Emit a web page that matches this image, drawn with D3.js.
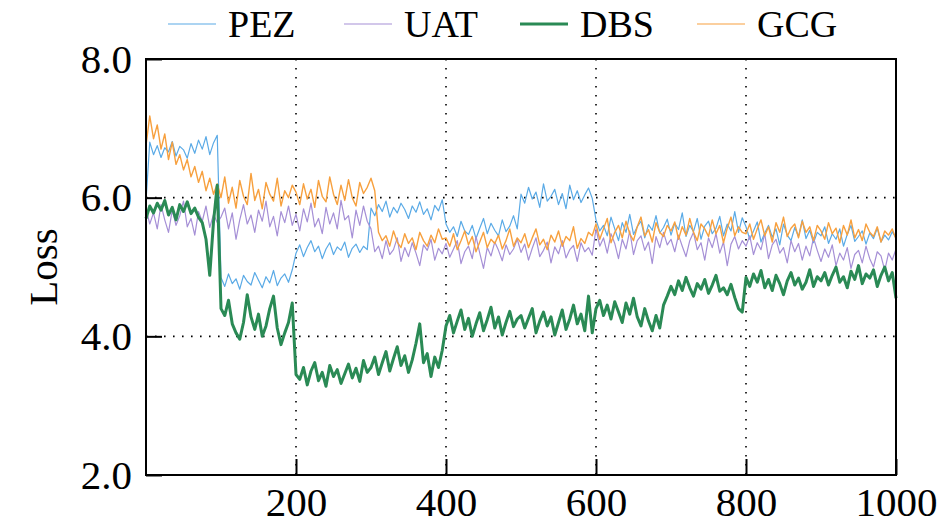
<!DOCTYPE html>
<html>
<head>
<meta charset="utf-8">
<script src="https://cdn.jsdelivr.net/npm/d3@7"></script>
<style>
  body { margin: 0; background: #fff; }
  svg { display: block; font-family: "Liberation Serif", "Times New Roman", Tinos, "Nimbus Roman", FreeSerif, "DejaVu Serif", "Noto Serif", serif; }
</style>
</head>
<body>
<svg id="chart" width="946" height="525"></svg>
<script>
// training steps (every 5 steps) and loss curves
const steps = d3.range(0, 1001, 5);

const pez = [
  5.95, 6.80, 6.62, 6.75, 6.58, 6.72, 6.66, 6.81, 6.60, 6.74, 6.69, 6.57, 6.78, 6.64, 6.83, 6.70, 6.88, 6.62, 6.79, 6.90,
  4.85, 4.72, 4.90, 4.76, 4.83, 4.68, 4.88, 4.79, 4.74, 4.92, 4.81, 4.70, 4.86, 4.77, 4.95, 4.73, 4.84, 4.90, 4.78, 4.96,
  5.20, 5.32, 5.15, 5.28, 5.38, 5.22, 5.30, 5.12, 5.26, 5.35, 5.18, 5.29, 5.24, 5.36, 5.14, 5.27, 5.33, 5.21, 5.30, 5.25,
  5.85, 5.74, 5.90, 5.80, 5.95, 5.72, 5.86, 5.78, 5.92, 5.83, 5.70, 5.88, 5.79, 5.94, 5.76, 5.84, 5.68, 5.89, 5.81, 5.97,
  5.62, 5.50, 5.58, 5.44, 5.66, 5.52, 5.47, 5.60, 5.41, 5.56, 5.70, 5.48, 5.63, 5.53, 5.45, 5.68, 5.51, 5.59, 5.74, 5.55,
  6.05, 5.92, 6.15, 5.98, 6.08, 5.86, 6.20, 5.95, 6.02, 6.12, 5.90, 6.06, 5.84, 6.18, 5.97, 6.10, 5.93, 6.04, 6.14, 5.99,
  5.68, 5.52, 5.60, 5.45, 5.72, 5.55, 5.38, 5.64, 5.50, 5.76, 5.47, 5.58, 5.66, 5.42, 5.61, 5.53, 5.74, 5.49, 5.57, 5.69,
  5.46, 5.63, 5.54, 5.78, 5.44, 5.60, 5.51, 5.70, 5.40, 5.59, 5.66, 5.48, 5.56, 5.73, 5.45, 5.62, 5.52, 5.80, 5.50, 5.71,
  5.58, 5.40, 5.52, 5.65, 5.36, 5.49, 5.60, 5.43, 5.55, 5.32, 5.62, 5.46, 5.38, 5.57, 5.44, 5.68, 5.41, 5.53, 5.35, 5.50,
  5.45, 5.58, 5.34, 5.48, 5.40, 5.55, 5.30, 5.47, 5.60, 5.37, 5.44, 5.52, 5.33, 5.49, 5.41, 5.56, 5.36, 5.46, 5.39, 5.51, 5.42
];

const uat = [
  5.85, 5.62, 5.78, 5.55, 5.90, 5.68, 5.50, 5.82, 5.60, 5.74, 5.95, 5.58, 5.70, 5.46, 5.80, 5.66, 5.88, 5.57, 5.76, 5.64,
  5.72, 5.85, 5.55, 5.78, 5.40, 5.68, 5.90, 5.62, 5.75, 5.50, 5.82, 5.66, 5.95, 5.58, 5.73, 5.45, 5.80, 5.64, 5.88, 5.60,
  5.76, 5.52, 5.84, 5.65, 5.92, 5.58, 5.70, 5.48, 5.86, 5.62, 5.78, 5.55, 5.96, 5.68, 5.74, 5.42, 5.82, 5.60, 5.88, 5.66,
  5.55, 5.22, 5.30, 5.12, 5.38, 5.18, 5.25, 5.42, 5.08, 5.28, 5.15, 5.35, 5.20, 5.02, 5.32, 5.24, 5.40, 5.10, 5.27, 5.19,
  5.34, 5.14, 5.26, 5.38, 5.05, 5.22, 5.30, 5.12, 5.44, 5.20, 4.98, 5.28, 5.16, 5.36, 5.24, 5.09, 5.32, 5.18, 5.26, 5.40,
  5.21, 5.33, 5.10, 5.27, 5.42, 5.15, 5.24, 5.36, 5.06, 5.29, 5.19, 5.38, 5.13, 5.25, 5.31, 5.08, 5.35, 5.22, 5.28, 5.17,
  5.55, 5.30, 5.42, 5.20, 5.48, 5.34, 5.12, 5.40, 5.26, 5.52, 5.18, 5.38, 5.45, 5.24, 5.36, 5.05, 5.44, 5.28, 5.50, 5.32,
  5.40, 5.22, 5.46, 5.30, 5.15, 5.38, 5.50, 5.25, 5.35, 5.10, 5.42, 5.28, 5.48, 5.20, 5.36, 5.02, 5.33, 5.44, 5.26, 5.38,
  5.30, 5.45, 5.18, 5.35, 5.25, 5.48, 5.12, 5.32, 5.40, 5.20, 5.28, 5.06, 5.38, 5.22, 5.34, 5.10, 5.30, 5.16, 5.42, 5.24,
  5.08, 5.26, 5.14, 5.32, 5.02, 5.20, 5.10, 5.28, 4.98, 5.18, 5.24, 5.06, 5.30, 5.12, 5.00, 5.22, 5.16, 4.95, 5.20, 5.10, 5.26
];

const dbs = [
  5.70, 5.88, 5.78, 5.92, 5.82, 5.96, 5.75, 5.86, 5.68, 5.90, 5.80, 5.94, 5.77, 5.85, 5.72, 5.64, 5.40, 4.88, 5.65, 6.18,
  4.40, 4.30, 4.52, 4.18, 4.05, 3.96, 4.20, 4.60, 4.28, 4.10, 4.32, 4.00, 4.15, 4.40, 4.58, 4.12, 3.88, 4.05, 4.20, 4.48,
  3.45, 3.38, 3.55, 3.30, 3.50, 3.62, 3.36, 3.48, 3.28, 3.58, 3.42, 3.52, 3.32, 3.46, 3.60, 3.40, 3.54, 3.35, 3.65, 3.48,
  3.55, 3.70, 3.45, 3.62, 3.78, 3.50, 3.68, 3.85, 3.58, 3.72, 3.48, 3.66, 3.90, 4.18, 3.62, 3.75, 3.42, 3.70, 3.55, 3.80,
  4.15, 4.30, 4.05, 4.22, 4.38, 4.10, 4.26, 4.00, 4.18, 4.34, 4.08, 4.24, 4.42, 4.12, 4.28, 4.02, 4.20, 4.36, 4.14, 4.25,
  4.30, 4.12, 4.26, 4.40, 4.05, 4.22, 4.35, 4.15, 4.28, 4.02, 4.20, 4.38, 4.10, 4.25, 4.45, 4.18, 4.32, 4.08, 4.58, 4.05,
  4.40, 4.52, 4.30, 4.45, 4.25, 4.50, 4.35, 4.20, 4.48, 4.32, 4.55, 4.28, 4.15, 4.40, 4.22, 4.08, 4.30, 4.12, 4.45, 4.58,
  4.72, 4.60, 4.80, 4.66, 4.85, 4.70, 4.58, 4.76, 4.68, 4.82, 4.62, 4.74, 4.88, 4.65, 4.70, 4.60, 4.75, 4.56, 4.40, 4.35,
  4.85, 4.72, 4.90, 4.78, 4.95, 4.70, 4.82, 4.66, 4.88, 4.76, 4.60, 4.80, 4.92, 4.74, 4.84, 4.68, 4.78, 4.96, 4.72, 4.86,
  4.80, 4.92, 4.74, 4.88, 5.00, 4.78, 4.86, 4.70, 4.94, 4.82, 5.02, 4.76, 4.90, 4.84, 4.96, 4.72, 4.88, 5.00, 4.80, 4.92, 4.55
];

const gcg = [
  6.75, 7.18, 6.85, 7.05, 6.70, 6.92, 6.55, 6.80, 6.48, 6.62, 6.40, 6.55, 6.30, 6.45, 6.22, 6.38, 6.10, 6.28, 6.05, 6.20,
  6.00, 6.30, 5.92, 6.15, 5.85, 6.25, 6.02, 5.90, 6.35, 5.96, 6.12, 5.84, 6.22, 6.05, 5.95, 6.28, 5.88, 6.10, 6.00, 6.18,
  6.08, 5.90, 6.20, 5.98, 6.12, 5.86, 6.25, 6.02, 5.94, 6.30, 6.05, 5.90, 6.18, 5.96, 6.26, 6.00, 5.88, 6.22, 6.06, 6.15,
  6.28, 6.10, 5.50, 5.38, 5.45, 5.30, 5.52, 5.36, 5.28, 5.48, 5.34, 5.42, 5.25, 5.50, 5.38, 5.30, 5.46, 5.35, 5.55, 5.40,
  5.42, 5.30, 5.48, 5.25, 5.38, 5.52, 5.32, 5.44, 5.22, 5.36, 5.50, 5.28, 5.40, 5.34, 5.46, 5.26, 5.38, 5.55, 5.30, 5.42,
  5.35, 5.48, 5.28, 5.42, 5.55, 5.32, 5.40, 5.25, 5.46, 5.36, 5.52, 5.30, 5.44, 5.38, 5.58, 5.27, 5.41, 5.34, 5.50, 5.45,
  5.62, 5.40, 5.55, 5.70, 5.35, 5.50, 5.60, 5.42, 5.66, 5.48, 5.38, 5.58, 5.72, 5.45, 5.54, 5.36, 5.64, 5.50, 5.44, 5.60,
  5.52, 5.65, 5.40, 5.58, 5.46, 5.70, 5.50, 5.38, 5.62, 5.55, 5.44, 5.68, 5.48, 5.60, 5.35, 5.56, 5.72, 5.45, 5.58, 5.50,
  5.48, 5.62, 5.40, 5.55, 5.68, 5.45, 5.58, 5.36, 5.64, 5.50, 5.72, 5.44, 5.56, 5.62, 5.42, 5.66, 5.50, 5.58, 5.38, 5.60,
  5.52, 5.40, 5.64, 5.48, 5.56, 5.35, 5.60, 5.46, 5.68, 5.42, 5.54, 5.38, 5.62, 5.50, 5.44, 5.58, 5.36, 5.52, 5.46, 5.55, 5.40
];

const xTicks = [200, 400, 600, 800, 1000];
const yTicks = [2, 4, 6, 8];
const gridX = [200, 400, 600, 800];
const gridY = [4, 6];

// drawing order: thin lines first, DBS on top
const series = [
  { name: "PEZ", values: pez, color: "#5aaae6", width: 1.2 },
  { name: "UAT", values: uat, color: "#a58fd6", width: 1.2 },
  { name: "GCG", values: gcg, color: "#f7a03e", width: 1.4 },
  { name: "DBS", values: dbs, color: "#2a8a55", width: 3 }
];
const legendOrder = ["PEZ", "UAT", "DBS", "GCG"];

const svg = d3.select("#chart");
const margin = { left: 146, right: 50, top: 59, bottom: 50 };
const width = +svg.attr("width");
const height = +svg.attr("height");
const serif = "'Liberation Serif', 'Times New Roman', Tinos, 'Nimbus Roman', FreeSerif, 'DejaVu Serif', 'Noto Serif', serif";

const x = d3.scaleLinear().domain([0, 1000]).range([margin.left, width - margin.right]);
const y = d3.scaleLinear().domain([2, 8]).range([height - margin.bottom, margin.top]);

// dotted grid
svg.append("g")
  .selectAll("line")
  .data(gridX)
  .join("line")
  .attr("x1", (d) => x(d)).attr("x2", (d) => x(d))
  .attr("y1", y(8)).attr("y2", y(2))
  .attr("stroke", "#000")
  .attr("stroke-width", 1.6)
  .attr("stroke-dasharray", "1.6,7.4");

svg.append("g")
  .selectAll("line")
  .data(gridY)
  .join("line")
  .attr("x1", x(0)).attr("x2", x(1000))
  .attr("y1", (d) => y(d)).attr("y2", (d) => y(d))
  .attr("stroke", "#000")
  .attr("stroke-width", 1.6)
  .attr("stroke-dasharray", "1.6,7.4");

// lines
const line = d3.line()
  .x((d, i) => x(steps[i]))
  .y((d) => y(d));

svg.append("g")
  .selectAll("path")
  .data(series)
  .join("path")
  .attr("d", (s) => line(s.values))
  .attr("fill", "none")
  .attr("stroke", (s) => s.color)
  .attr("stroke-width", (s) => s.width)
  .attr("stroke-linejoin", "round");

// axes with inward ticks
const xAxis = svg.append("g")
  .attr("transform", `translate(0,${y(2)})`)
  .call(d3.axisBottom(x).tickValues(xTicks).tickFormat(d3.format("d")).tickSizeInner(-16).tickSizeOuter(0).tickPadding(12));

const yAxis = svg.append("g")
  .attr("transform", `translate(${x(0)},0)`)
  .call(d3.axisLeft(y).tickValues(yTicks).tickFormat(d3.format(".1f")).tickSizeInner(-16).tickSizeOuter(0).tickPadding(14));

[xAxis, yAxis].forEach((g) => {
  g.attr("font-family", null);
  g.select(".domain").remove();
  g.selectAll(".tick line").attr("stroke", "#000").attr("stroke-width", 2);
  g.selectAll(".tick text")
    .attr("fill", "#000")
    .style("font-family", serif)
    .style("font-size", "41px");
});

// frame
svg.append("rect")
  .attr("x", x(0))
  .attr("y", y(8))
  .attr("width", x(1000) - x(0))
  .attr("height", y(2) - y(8))
  .attr("fill", "none")
  .attr("stroke", "#000")
  .attr("stroke-width", 2);

// y label
svg.append("text")
  .attr("transform", `translate(57,${(y(2) + y(8)) / 2}) rotate(-90)`)
  .attr("text-anchor", "middle")
  .style("font-family", serif)
  .style("font-size", "41px")
  .text("Loss");

// legend
const legendX = { PEZ: 168, UAT: 344, DBS: 520, GCG: 697 };
const legend = svg.append("g")
  .selectAll("g")
  .data(legendOrder.map((n) => series.find((s) => s.name === n)))
  .join("g")
  .attr("transform", (s) => `translate(${legendX[s.name]},24)`);

legend.append("line")
  .attr("x1", 0).attr("x2", 48)
  .attr("stroke", (s) => s.color)
  .attr("stroke-width", (s) => (s.name === "DBS" ? 3 : 1.2));

legend.append("text")
  .attr("x", 60)
  .attr("y", 13)
  .style("font-family", serif)
  .style("font-size", "38px")
  .text((s) => s.name);
</script>
</body>
</html>
